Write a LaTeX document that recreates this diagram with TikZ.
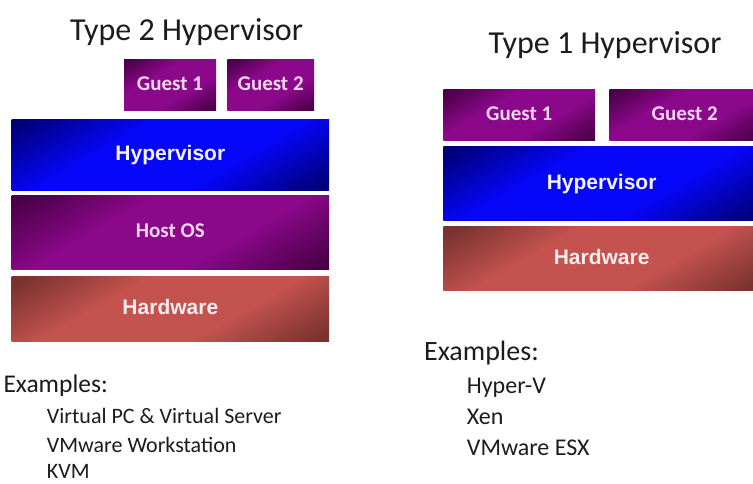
\documentclass[tikz,border=0pt]{standalone}
\usepackage{fontspec}
\setmainfont{Carlito}
\newfontfamily\labfont{Liberation Sans}

% colours of the layer boxes
\definecolor{plumDark}{HTML}{4A0048}
\definecolor{plumLight}{HTML}{8A0889}
\definecolor{navyDark}{HTML}{00007A}
\definecolor{blueLight}{HTML}{0606F8}
\definecolor{brickDark}{HTML}{7A322F}
\definecolor{brickLight}{HTML}{C4534F}
\definecolor{inkText}{HTML}{1C1C1C}
\definecolor{pinkText}{HTML}{F3D6F1}
\definecolor{paleText}{HTML}{F2F2FF}
\definecolor{roseText}{HTML}{F8ECEC}

% diagonal band shading: dark corners, bright middle
\colorlet{slabdark}{black}
\colorlet{slablight}{white}
\pgfdeclareverticalshading[slabdark,slablight]{slab}{100bp}{%
  color(0bp)=(slabdark); color(18bp)=(slabdark); color(38bp)=(slablight);
  color(62bp)=(slablight); color(82bp)=(slabdark); color(100bp)=(slabdark)}

\tikzset{
  layer/.style n args={4}{
    shade, shading=slab, shading angle=30,
    /utils/exec={\colorlet{slabdark}{#1}\colorlet{slablight}{#2}},
    minimum width=#3, minimum height=#4, inner sep=0pt,
    text height=14pt, text depth=3pt},
  guestbox/.style 2 args={layer={plumDark}{plumLight}{#1}{#2},
    text=pinkText, font=\bfseries\fontsize{21}{24}\selectfont},
  hostbox/.style 2 args={layer={plumDark}{plumLight}{#1}{#2},
    text=pinkText, font=\bfseries\fontsize{21}{24}\selectfont},
  hyperbox/.style 2 args={layer={navyDark}{blueLight}{#1}{#2},
    text=paleText, font=\labfont\bfseries\fontsize{21}{24}\selectfont},
  hardbox/.style 2 args={layer={brickDark}{brickLight}{#1}{#2},
    text=roseText, font=\labfont\bfseries\fontsize{21}{24}\selectfont},
  heading/.style={text=inkText, inner sep=0pt, anchor=base,
    font=\fontsize{32}{38}\selectfont},
  listhead/.style={text=inkText, inner sep=0pt, anchor=base west,
    font=\fontsize{#1}{#1}\selectfont},
  listitem/.style={text=inkText, inner sep=0pt, anchor=base west,
    font=\fontsize{#1}{#1}\selectfont},
}

\begin{document}
\begin{tikzpicture}[x=1pt, y=-1pt]
\useasboundingbox (0,0) rectangle (753,483);
\fill[white] (0,0) rectangle (753,483);
\clip (0,0) rectangle (753,483);

% ---- Type 2 hypervisor stack ----
\node[heading] (t2title) at (186.5,40.5) {Type 2 Hypervisor};
\node[guestbox={92pt}{50.7pt}]    (t2g1)   at (170,84.65)     {Guest 1};
\node[guestbox={86.7pt}{50.7pt}]  (t2g2)   at (270.65,84.65)  {Guest 2};
\node[hyperbox={317.3pt}{70.7pt}] (t2hyp)  at (170.35,154.65) {Hypervisor};
\node[hostbox={317.3pt}{74.3pt}]  (t2host) at (170.35,232.15) {Host OS};
\node[hardbox={317.3pt}{64.6pt}]  (t2hw)   at (170.35,309)    {Hardware};

\node[listhead=25.5] (t2ex) at (3.3,392.5) {Examples:};
\node[listitem=22] (t2a) at (46.7,423) {Virtual PC \& Virtual Server};
\node[listitem=22] (t2b) at (46.7,452) {VMware Workstation};
\node[listitem=22] (t2c) at (46.7,478.5) {KVM};

% ---- Type 1 hypervisor stack ----
\node[heading] (t1title) at (605,53.3) {Type 1 Hypervisor};
\node[guestbox={151.7pt}{50.7pt}] (t1g1)  at (519.15,114.65) {Guest 1};
\node[guestbox={150.7pt}{50.7pt}] (t1g2)  at (684.65,114.65) {Guest 2};
\node[hyperbox={316.7pt}{74pt}]   (t1hyp) at (601.65,183.7)  {Hypervisor};
\node[hardbox={316.7pt}{64pt}]    (t1hw)  at (601.65,258.7)  {Hardware};

\node[listhead=28] (t1ex) at (424,360) {Examples:};
\node[listitem=24] (t1a) at (466.7,393.5) {Hyper-V};
\node[listitem=24] (t1b) at (466.7,424.5) {Xen};
\node[listitem=24] (t1c) at (466.7,455.5) {VMware ESX};
\end{tikzpicture}
\end{document}
